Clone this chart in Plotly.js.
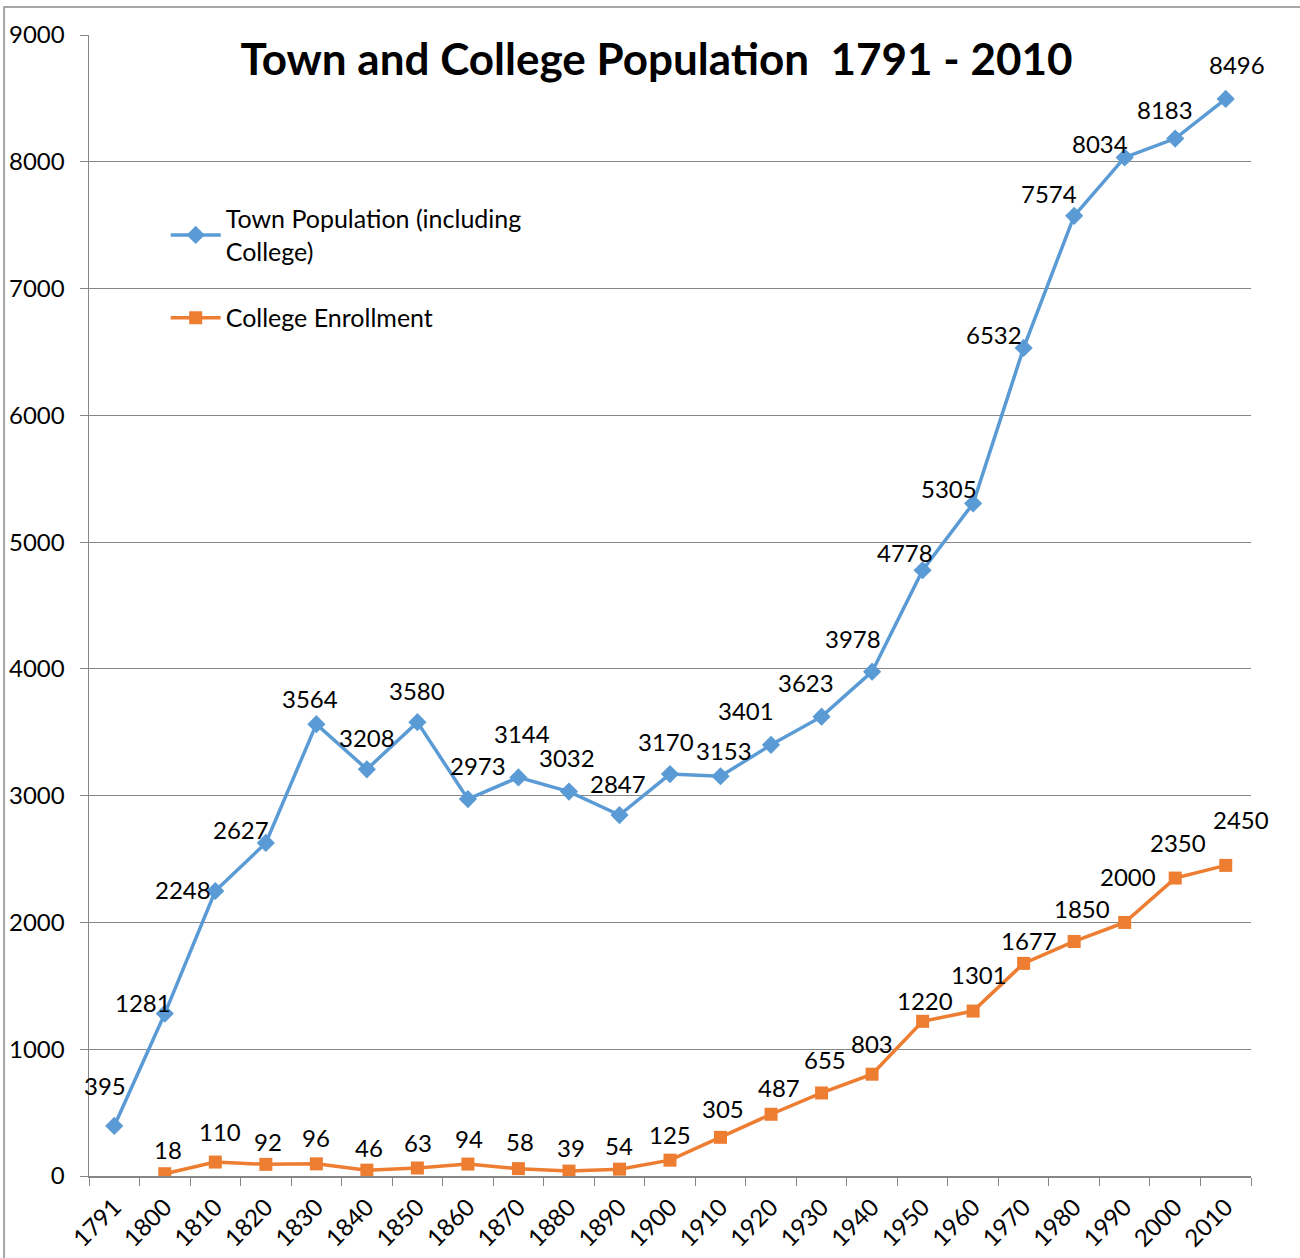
<!DOCTYPE html>
<html><head><meta charset="utf-8">
<script src="https://cdn.plot.ly/plotly-3.0.1.min.js"></script>
<style>html,body{margin:0;padding:0;background:#fff}#chart{width:1300px;height:1258px}</style>
</head><body><div id="chart"></div>
<script>
const years = ["1791","1800","1810","1820","1830","1840","1850","1860","1870","1880","1890","1900","1910","1920","1930","1940","1950","1960","1970","1980","1990","2000","2010"];
const townPopulation = [395,1281,2248,2627,3564,3208,3580,2973,3144,3032,2847,3170,3153,3401,3623,3978,4778,5305,6532,7574,8034,8183,8496];
const collegeYears = ["1800","1810","1820","1830","1840","1850","1860","1870","1880","1890","1900","1910","1920","1930","1940","1950","1960","1970","1980","1990","2000","2010"];
const collegeEnrollment = [18,110,92,96,46,63,94,58,39,54,125,305,487,655,803,1220,1301,1677,1850,2000,2350,2450];
const yTicks = [0,1000,2000,3000,4000,5000,6000,7000,8000,9000];

// label offsets in pixels (dx, dy) — style only
const townOff = [[-9,40],[-22,11],[-32,2],[-25,13],[-6,26],[0,32],[0,32],[10,34],[4,44],[-2,34],[-1,32],[-4,33],[3,26],[-25,34],[-16,34],[-19,33],[-18,18],[-24,15],[-30,13],[-25,22],[-25,14],[-10,29],[11,34]];
const collOff = [[3,24],[5,31],[2,23],[0,26],[2,23],[1,26],[1,26],[2,27],[2,24],[0,24],[0,26],[2,29],[8,27],[3,33],[0,31],[2,21],[6,37],[5,23],[8,33],[3,46],[3,36],[15,46]];

const BLUE = '#5B9BD5', ORANGE = '#ED7D31';
const FONT = 'Lato, "Open Sans", sans-serif';

const traces = [
  {x: years, y: townPopulation, type:'scatter', mode:'lines+markers', name:'Town Population (including<br>College)', legendgroup:'a',
   line:{color:BLUE, width:3.5}, marker:{symbol:'diamond', size:14, color:BLUE}},
  {x: collegeYears, y: collegeEnrollment, type:'scatter', mode:'lines+markers', name:'College Enrollment', legendgroup:'b',
   line:{color:ORANGE, width:3.5}, marker:{symbol:'square', size:13, color:ORANGE}}
];

const annotations = [];
const labelFont = {family:FONT, size:24, color:'#000'};
years.forEach((yr,i)=>annotations.push({x:years.indexOf(yr), y:townPopulation[i], xref:'x', yref:'y', text:String(townPopulation[i]), showarrow:false,
  xshift:townOff[i][0], yshift:townOff[i][1], font:labelFont}));
collegeYears.forEach((yr,i)=>annotations.push({x:years.indexOf(yr), y:collegeEnrollment[i], xref:'x', yref:'y', text:String(collegeEnrollment[i]), showarrow:false,
  xshift:collOff[i][0], yshift:collOff[i][1], font:labelFont}));

const layout = {
  width:1300, height:1258,
  margin:{l:89, r:49, t:35, b:82},
  paper_bgcolor:'#fff', plot_bgcolor:'#fff',
  font:{family:FONT, size:24, color:'#000'},
  title:{text:'<b>Town and College Population  1791 - 2010</b>', font:{family:FONT, size:44, color:'#000'},
         x:0.505, xanchor:'center', y:0.953, yanchor:'middle'},
  showlegend:true,
  legend:{x:0.066, y:0.859, xanchor:'left', yanchor:'top', bgcolor:'rgba(0,0,0,0)', font:{family:FONT, size:25, color:'#000'},
          traceorder:'grouped', tracegroupgap:31, itemwidth:50},
  xaxis:{type:'category', categoryorder:'array', categoryarray:years, tickson:'boundaries', ticks:'outside', ticklen:8, tickcolor:'#868686',
         showline:true, linecolor:'#868686', linewidth:1.5, showgrid:false, tickangle:-45, range:[-0.5,22.5],
         tickfont:{family:FONT, size:24, color:'#000'}, zeroline:false, ticklabelstandoff:6},
  yaxis:{range:[0,9000], tickvals:yTicks, ticks:'outside', ticklen:8, tickcolor:'#868686', showline:true, linecolor:'#868686', linewidth:1.5,
         showgrid:true, gridcolor:'#868686', gridwidth:1, zeroline:false, tickfont:{family:FONT, size:24, color:'#000'}, ticklabelstandoff:10},
  annotations: annotations,
  shapes:[{type:'rect', xref:'paper', yref:'paper', x0:-0.0731, x1:1.5, y0:-0.5, y1:1.0245, line:{color:'#A6A6A6', width:2}, layer:'below'}]
};
Plotly.newPlot('chart', traces, layout, {displayModeBar:false, staticPlot:true});
</script></body></html>
